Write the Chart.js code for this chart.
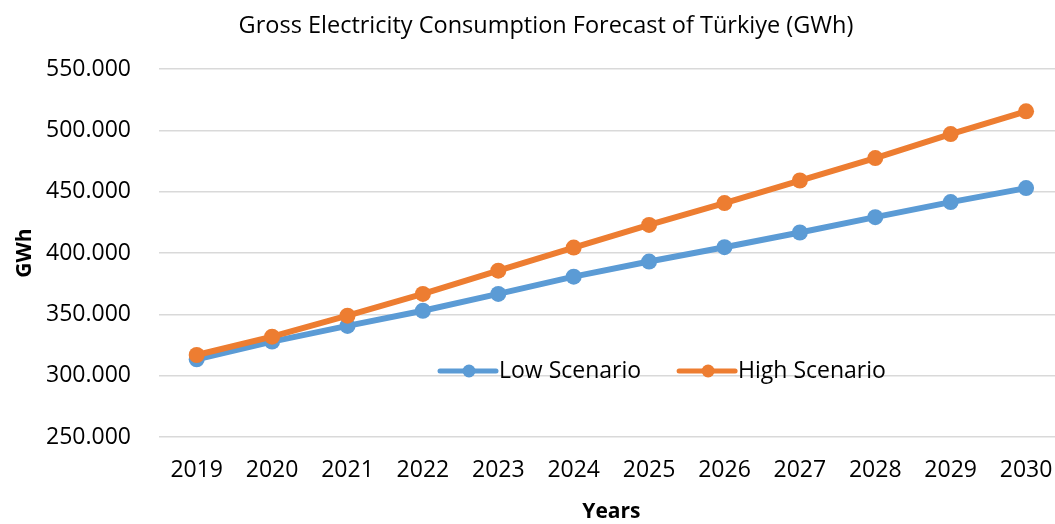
<!DOCTYPE html>
<html>
<head>
<meta charset="utf-8">
<script src="https://cdn.jsdelivr.net/npm/chart.js@4.4.1/dist/chart.umd.min.js"></script>
<style>
  html, body { margin: 0; padding: 0; background: #fff; overflow: hidden; }
  canvas { display: block; }
</style>
</head>
<body>
<canvas id="forecast-chart" width="1072" height="524"></canvas>
<script>
// Data (GWh)
const years = ['2019', '2020', '2021', '2022', '2023', '2024', '2025', '2026', '2027', '2028', '2029', '2030'];
const lowScenario = [313400, 327800, 340600, 353000, 366700, 380800, 393100, 404800, 416800, 429300, 441600, 453000];
const highScenario = [316900, 331800, 349000, 366700, 385700, 404500, 423000, 440800, 459200, 477500, 497100, 515600];
const yTicks = [250000, 300000, 350000, 400000, 450000, 500000, 550000];

const colors = {
  blue: '#5b9bd5',
  orange: '#ed7d31',
  grid: '#d9d9d9',
  text: '#000000',
};
const fontFamily = '"Open Sans", "Noto Sans", sans-serif';

// thousands separator as dot
function formatGWh(v) {
  return String(v).replace(/\B(?=(\d{3})+(?!\d))/g, '.');
}

// Legend drawn inside the plot area, like the original
const insideLegend = {
  id: 'insideLegend',
  afterDatasetsDraw(chart) {
    const ctx = chart.ctx;
    const items = [chart.data.datasets[0], chart.data.datasets[1]];
    let x = 440;
    const y = 371;
    ctx.save();
    ctx.font = '23px ' + fontFamily;
    ctx.textBaseline = 'middle';
    items.forEach(ds => {
      ctx.strokeStyle = ds.borderColor;
      ctx.lineWidth = 5;
      ctx.lineCap = 'round';
      ctx.beginPath();
      ctx.moveTo(x, y);
      ctx.lineTo(x + 56, y);
      ctx.stroke();
      ctx.fillStyle = ds.backgroundColor;
      ctx.beginPath();
      ctx.arc(x + 29, y, 6.5, 0, Math.PI * 2);
      ctx.fill();
      ctx.fillStyle = colors.text;
      ctx.fillText(ds.label, x + 59, y);
      x += 59 + ctx.measureText(ds.label).width + 38;
    });
    ctx.restore();
  }
};

// original title sits a little right of the canvas centre
const titleNudge = {
  id: 'titleNudge',
  afterLayout(chart) {
    chart.titleBlock.left += 10;
    chart.titleBlock.right += 10;
  }
};

new Chart(document.getElementById('forecast-chart'), {
  type: 'line',
  data: {
    labels: years,
    datasets: [{
      label: 'Low Scenario',
      data: lowScenario,
      borderColor: colors.blue,
      backgroundColor: colors.blue,
      borderWidth: 6,
      pointRadius: 8,
      pointHoverRadius: 8,
      pointBorderWidth: 0,
      tension: 0,
      order: 1,
    }, {
      label: 'High Scenario',
      data: highScenario,
      borderColor: colors.orange,
      backgroundColor: colors.orange,
      borderWidth: 6,
      pointRadius: 8,
      pointHoverRadius: 8,
      pointBorderWidth: 0,
      tension: 0,
      order: 0,
    }]
  },
  options: {
    responsive: false,
    animation: false,
    devicePixelRatio: 1,
    layout: {
      padding: { top: 4, right: 0, bottom: 0, left: 0 }
    },
    plugins: {
      legend: { display: false },
      tooltip: { enabled: false },
      title: {
        display: true,
        text: 'Gross Electricity Consumption Forecast of Türkiye (GWh)',
        color: colors.text,
        font: { family: fontFamily, size: 23.5, weight: 'normal', lineHeight: 1.2 },
        padding: { top: 8, bottom: 29 },
      }
    },
    scales: {
      x: {
        offset: true,
        grid: { display: false, drawTicks: false },
        border: { display: false },
        ticks: {
          color: colors.text,
          padding: 19.3,
          maxRotation: 0,
          font: { family: fontFamily, size: 23, lineHeight: 1.2 },
        },
        title: {
          display: true,
          text: 'Years',
          color: colors.text,
          font: { family: fontFamily, size: 21, weight: 'bold', lineHeight: 0.8 },
          padding: { top: 0, bottom: 4 },
        }
      },
      y: {
        min: 250000,
        max: 550000,
        afterBuildTicks(scale) {
          scale.ticks = yTicks.map(v => ({ value: v }));
        },
        afterFit(scale) {
          scale.width = 159;
        },
        grid: { color: colors.grid, lineWidth: 1.5, drawTicks: false },
        border: { display: false },
        ticks: {
          color: colors.text,
          padding: 28,
          font: { family: fontFamily, size: 23, lineHeight: 1.2 },
          callback: v => formatGWh(v),
        },
        title: {
          display: true,
          text: 'GWh',
          color: colors.text,
          font: { family: fontFamily, size: 21, weight: 'bold', lineHeight: 1.0 },
          padding: { top: 14.5, bottom: 0 },
        }
      }
    }
  },
  plugins: [insideLegend, titleNudge]
});
</script>
</body>
</html>
